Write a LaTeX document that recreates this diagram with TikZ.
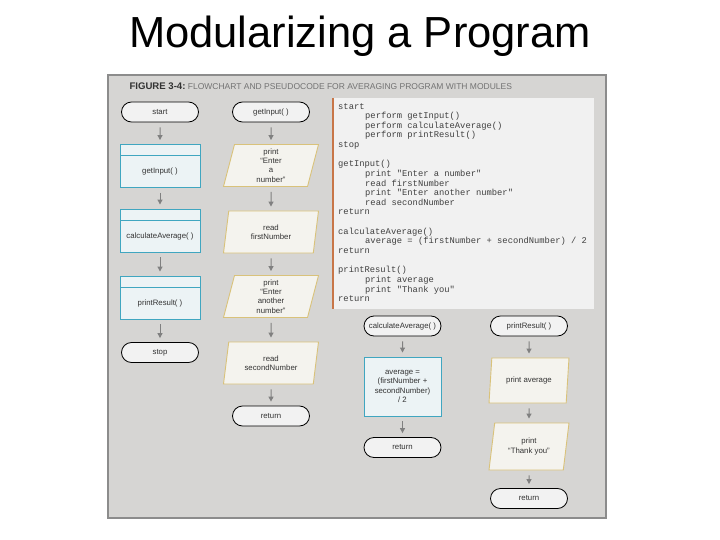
\documentclass[tikz,border=0pt]{standalone}
\usepackage{fontspec}
\setmainfont{Liberation Sans}
\newfontfamily\codefont{Liberation Mono}
\usetikzlibrary{shapes.geometric,shapes.misc,arrows.meta}

\definecolor{pannello}{RGB}{214,213,211}
\definecolor{bordopan}{RGB}{140,140,140}
\definecolor{terminale}{RGB}{242,242,242}
\definecolor{modulo}{RGB}{236,243,245}
\definecolor{modbordo}{RGB}{64,166,192}
\definecolor{iofill}{RGB}{244,243,238}
\definecolor{iobordo}{RGB}{217,194,122}
\definecolor{sfondocod}{RGB}{241,241,241}
\definecolor{barra}{RGB}{200,118,72}
\definecolor{grigiofr}{RGB}{128,128,128}

\tikzset{
  term/.style={rounded rectangle, draw=black, line width=0.8pt, fill=terminale,
    minimum width=79pt, minimum height=20pt, inner sep=1pt},
  modbox/.style={rectangle, draw=modbordo, line width=0.9pt, fill=modulo,
    minimum width=80pt, minimum height=43pt, text height=17pt, text depth=1pt, inner sep=0pt,
    path picture={\draw[modbordo, line width=0.9pt]
      ([yshift=-11pt]path picture bounding box.north west) --
      ([yshift=-11pt]path picture bounding box.north east);}},
  procbox/.style={rectangle, draw=modbordo, line width=0.9pt, fill=modulo,
    minimum width=77pt, minimum height=59pt, align=center},
  iobox/.style={trapezium, trapezium left angle=73, trapezium right angle=107,
    trapezium stretches body, draw=iobordo, line width=0.9pt, fill=iofill,
    minimum width=95pt, minimum height=42pt, align=center, inner sep=1pt},
  freccia/.style={draw=grigiofr, line width=1pt, -{Triangle[length=5pt,width=5pt]},
    shorten <=5pt, shorten >=4pt}
}

\begin{document}
\begin{tikzpicture}[x=1pt,y=-1pt,
  every node/.style={font=\fontsize{7.8}{9.4}\selectfont, text=black!80}]

  \useasboundingbox (0,0) rectangle (720,540);

  % --- titolo e riquadro della figura ------------------------------------
  \node[text=black] (titolo) at (360,36) {\fontsize{43.5}{48}\selectfont Modularizing a Program};
  \draw[draw=bordopan, line width=1.5pt, fill=pannello] (108,75) rectangle (606,518);
  \node[anchor=base west, font=\fontsize{8.5}{10}\selectfont] (didascalia) at (126,89.5)
    {{\fontsize{9.6}{10}\selectfont\textbf{FIGURE 3-4:}}\ \textcolor{black!55}{FLOWCHART AND PSEUDOCODE FOR AVERAGING PROGRAM WITH MODULES}};

  % --- programma principale ----------------------------------------------
  \node[term] (start) at (160,112) {start};
  \node[modbox] (mod1) at (160,166) {getInput( )};
  \node[modbox] (mod2) at (160,230.5) {calculateAverage( )};
  \node[modbox] (mod3) at (160,297.5) {printResult( )};
  \node[term] (stop) at (160,352.5) {stop};

  % --- modulo getInput() -------------------------------------------------
  \node[term] (gi) at (271,112) {getInput( )};
  \node[iobox] (gi1) at (271,165.5) {print\\``Enter\\a\\number''};
  \node[iobox] (gi2) at (271,232) {read\\firstNumber};
  \node[iobox] (gi3) at (271,296.5) {print\\``Enter\\another\\number''};
  \node[iobox] (gi4) at (271,363) {read\\secondNumber};
  \node[term] (giret) at (271,416) {return};

  % --- pseudocodice ------------------------------------------------------
  \node[fill=sfondocod, minimum width=261pt, minimum height=211pt, anchor=north west,
    inner sep=0pt] (pancod) at (333,98) {};
  \draw[barra, line width=2pt] (pancod.north west) -- (pancod.south west);
  \node[anchor=north west, align=left, inner sep=0pt, text=black!75,
    font=\codefont\fontsize{8.8}{9.63}\selectfont] (codice) at (338,103) {%
    start\\
    \hspace*{27pt}perform getInput()\\
    \hspace*{27pt}perform calculateAverage()\\
    \hspace*{27pt}perform printResult()\\
    stop\\
    \strut\\
    getInput()\\
    \hspace*{27pt}print "Enter a number"\\
    \hspace*{27pt}read firstNumber\\
    \hspace*{27pt}print "Enter another number"\\
    \hspace*{27pt}read secondNumber\\
    return\\
    \strut\\
    calculateAverage()\\
    \hspace*{27pt}average = (firstNumber + secondNumber) / 2\\
    return\\
    \strut\\
    printResult()\\
    \hspace*{27pt}print average\\
    \hspace*{27pt}print "Thank you"\\
    return};

  % --- moduli calculateAverage() e printResult() -------------------------
  \node[term] (ca) at (402.5,326) {calculateAverage( )};
  \node[procbox] (ca1) at (402.5,386.5) {average =\\(firstNumber +\\secondNumber)\\/ 2};
  \node[term] (caret) at (402.5,447.5) {return};

  \node[term] (pr) at (529,326) {printResult( )};
  \node[iobox, minimum width=80pt, minimum height=45pt] (pr1) at (529,380.5) {print average};
  \node[iobox, minimum width=80pt, minimum height=47pt] (pr2) at (529,446.5) {print\\``Thank you''};
  \node[term] (prret) at (529,498.5) {return};

  % frecce
  \foreach \a/\b in {start/mod1, mod1/mod2, mod2/mod3, mod3/stop,
                     gi/gi1, gi1/gi2, gi2/gi3, gi3/gi4, gi4/giret,
                     ca/ca1, ca1/caret, pr/pr1, pr1/pr2, pr2/prret}
    \draw[freccia] (\a) -- (\b);

\end{tikzpicture}
\end{document}
